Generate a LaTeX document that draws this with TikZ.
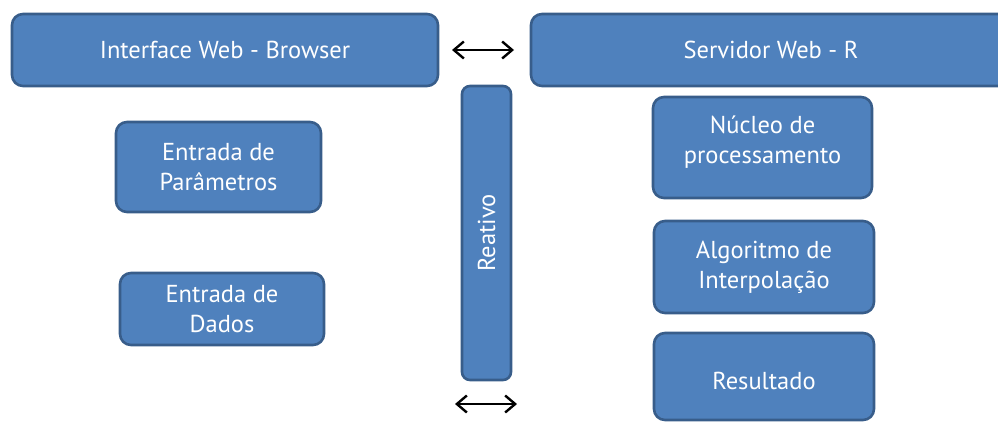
\documentclass[tikz,border=0pt]{standalone}
\usepackage{fontspec}
\setmainfont{PT Sans}
\usetikzlibrary{arrows.meta}
\definecolor{boxfill}{HTML}{4F81BD}
\definecolor{boxline}{HTML}{385D8A}
\tikzset{
  blbox/.style={draw=boxline, fill=boxfill, line width=2.6pt, rounded corners=11pt,
    text=white, align=center, inner sep=0pt,
    font=\fontsize{24.5}{30}\selectfont},
  dblarrow/.style={{Straight Barb[length=10pt,width=17pt]}-{Straight Barb[length=10pt,width=17pt]}, line width=2.4pt, black}
}
\begin{document}
\begin{tikzpicture}[x=1pt,y=-1pt]
\useasboundingbox (0,0) rectangle (998,424);
\clip (0,0) rectangle (998,424);
\node[blbox, minimum width=426pt, minimum height=72pt] (web) at (225,50) {Interface Web - Browser};
\node[blbox, minimum width=480pt, minimum height=72pt] (srv) at (771,50) {Servidor Web - R};
\node[blbox, minimum width=49pt, minimum height=294pt, rounded corners=8pt] (reat) at (486.5,233) {\rotatebox{90}{Reativo}};
\node[blbox, minimum width=205pt, minimum height=90pt] (par) at (218.5,167) {Entrada de\\Parâmetros};
\node[blbox, minimum width=204pt, minimum height=72pt] (dad) at (222,309) {Entrada de\\Dados};
\node[blbox, minimum width=219pt, minimum height=101pt, text depth=16pt] (nuc) at (762.5,147.5) {Núcleo de\\processamento};
\node[blbox, minimum width=220pt, minimum height=92pt] (alg) at (764,267) {Algoritmo de\\Interpolação};
\node[blbox, minimum width=220pt, minimum height=87pt, text height=26pt] (res) at (764,376.5) {Resultado};
\coordinate (a1) at (452,50);
\coordinate (a2) at (514,50);
\coordinate (b1) at (455,404);
\coordinate (b2) at (517,404);
\draw[dblarrow] (a1) -- (a2);
\draw[dblarrow] (b1) -- (b2);
\end{tikzpicture}
\end{document}
